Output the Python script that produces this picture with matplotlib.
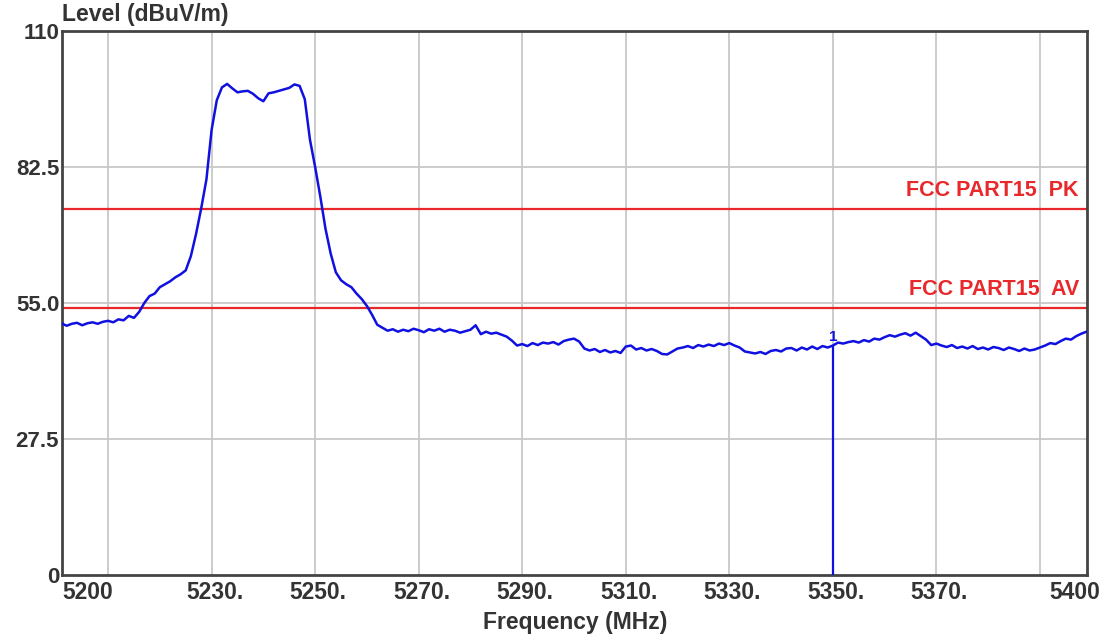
import numpy as np
import matplotlib
matplotlib.use('Agg')
from matplotlib import pyplot as plt

plt.rcParams['font.family'] = ['Liberation Sans', 'DejaVu Sans']
plt.rcParams['font.weight'] = 'bold'

# sweep: 5200 - 5400 MHz, one reading per MHz
freq_start = 5200
freq_stop = 5400
level = [
    50.6, 50.9, 50.4, 50.8, 51.0, 50.5, 50.9, 51.1, 50.8, 51.2,
    51.4, 51.1, 51.7, 51.5, 52.4, 52.0, 53.2, 55.0, 56.4, 56.9,
    58.2, 58.8, 59.4, 60.2, 60.8, 61.6, 64.5, 69.0, 74.2, 80.0,
    90.0, 96.0, 98.6, 99.3, 98.4, 97.6, 97.8, 97.9, 97.3, 96.4,
    95.8, 97.4, 97.6, 97.9, 98.2, 98.5, 99.2, 98.9, 96.2, 88.0,
    82.5, 76.5, 70.0, 65.0, 61.2, 59.6, 58.8, 58.2, 56.9, 55.8,
    54.4, 52.6, 50.6, 50.0, 49.4, 49.7, 49.2, 49.6, 49.3, 49.8,
    49.5, 49.1, 49.7, 49.4, 49.8, 49.2, 49.6, 49.4, 49.0, 49.3,
    49.6, 50.5, 48.7, 49.2, 48.8, 49.0, 48.6, 48.2, 47.4, 46.4,
    46.7, 46.3, 46.9, 46.5, 47.0, 46.8, 47.1, 46.6, 47.3, 47.6,
    47.8, 47.2, 45.8, 45.4, 45.7, 45.1, 45.5, 45.0, 45.3, 44.9,
    46.2, 46.4, 45.6, 45.9, 45.4, 45.7, 45.3, 44.7, 44.6, 45.2,
    45.8, 46.0, 46.3, 45.9, 46.5, 46.2, 46.6, 46.3, 46.8, 46.5,
    46.9, 46.4, 46.0, 45.2, 45.0, 44.8, 45.1, 44.7, 45.3, 45.5,
    45.2, 45.8, 45.9, 45.4, 46.0, 45.6, 46.2, 45.7, 46.3, 46.0,
    46.4, 47.0, 46.8, 47.1, 47.3, 47.0, 47.5, 47.2, 47.8, 47.6,
    48.1, 48.5, 48.2, 48.6, 48.9, 48.4, 49.0, 48.3, 47.6, 46.5,
    46.8, 46.4, 46.1, 46.5, 45.9, 46.2, 45.8, 46.3, 45.7, 46.0,
    45.6, 46.1, 45.9, 45.5, 46.0, 45.7, 45.3, 45.8, 45.4, 45.6,
    46.0, 46.4, 46.9, 46.7, 47.3, 47.8, 47.6, 48.3, 48.8, 49.2,
    48.9,
]
freq = np.arange(freq_start, freq_stop + 1)

# marker 1 dropout at 5350 MHz
marker_freq = 5350
marker_low = 0.0
marker_high = 46.4

# limit lines
limit_pk = 74
limit_av = 54
limit_names = ['FCC PART15  PK', 'FCC PART15  AV']

grid_freqs = [5210, 5230, 5250, 5270, 5290, 5310, 5330, 5350, 5370, 5390]
level_ticks = [0, 27.5, 55, 82.5, 110]
level_labels = ['0', '27.5', '55.0', '82.5', '110']

fig = plt.figure(figsize=(11.09, 6.38), dpi=100)
ax = fig.add_axes([0.0559, 0.0987, 0.9243, 0.8527])

ax.set_xlim(5201.1, 5399.1)
ax.set_ylim(0, 110)

for g in grid_freqs:
    ax.axvline(g, color='#c8c8c8', lw=1.3, zorder=0)
for t in level_ticks[1:-1]:
    ax.axhline(t, color='#c8c8c8', lw=1.3, zorder=0)

red = '#e8282a'
ax.axhline(limit_pk, color=red, lw=1.6, zorder=2)
ax.axhline(limit_av, color=red, lw=1.6, zorder=2)
ax.text(5397.5, limit_pk + 1.6, limit_names[0], color=red, fontsize=15.5,
        fontweight='bold', ha='right', va='bottom')
ax.text(5397.5, limit_av + 1.6, limit_names[1], color=red, fontsize=15.5,
        fontweight='bold', ha='right', va='bottom')

blue = '#1010e0'
ax.plot(freq, level, color=blue, lw=1.8, zorder=3)
ax.vlines(marker_freq, marker_low, marker_high, color=blue, lw=1.6, zorder=3)
ax.text(marker_freq, marker_high + 0.4, '1', color=blue, fontsize=11,
        ha='center', va='bottom')

ax.set_xticks([])
ax.set_yticks(level_ticks)
ax.set_yticklabels(level_labels, fontsize=16, fontweight='bold', color='#333333')
ax.tick_params(axis='y', length=0, pad=2)

for s in ax.spines.values():
    s.set_color('#444444')
    s.set_linewidth(2)

# frequency labels under the frame
xlabels = [(5201.1, '5200', 'left'), (5230, '5230.', 'center'),
           (5250, '5250.', 'center'), (5270, '5270.', 'center'),
           (5290, '5290.', 'center'), (5310, '5310.', 'center'),
           (5330, '5330.', 'center'), (5350, '5350.', 'center'),
           (5370, '5370.', 'center'), (5401.6, '5400', 'right')]
for f, txt, ha in xlabels:
    xx = f + 0.6 if ha == 'center' else f
    ax.text(xx, -3.6, txt, fontsize=16.5, fontweight='bold', color='#333333',
            ha=ha, va='center', clip_on=False)

fig.text(0.5186, 0.025, 'Frequency (MHz)', fontsize=16.5, fontweight='bold',
         color='#333333', ha='center', va='center')
fig.text(0.0559, 0.978, 'Level (dBuV/m)', fontsize=16.5, fontweight='bold',
         color='#333333', ha='left', va='center')

plt.savefig('out.png', dpi=100)
